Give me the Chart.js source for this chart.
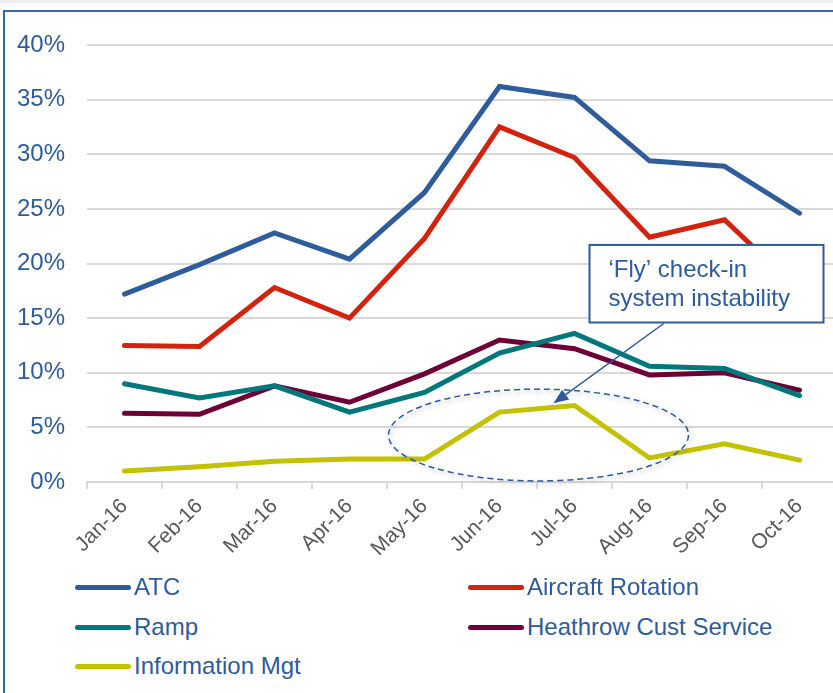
<!DOCTYPE html>
<html>
<head>
<meta charset="utf-8">
<script src="https://cdn.jsdelivr.net/npm/chart.js@4/dist/chart.umd.min.js"></script>
<style>
  html, body { margin: 0; padding: 0; width: 833px; height: 693px; overflow: hidden; background: #fff;
    font-family: "Liberation Sans", Arial, sans-serif; }
  #strip { position: absolute; left: 0; top: 0; width: 833px; height: 3px; background: #eeeeee; }
  #frame { position: absolute; left: 3px; top: 10px; width: 900px; height: 800px;
    border-top: 2px solid #3a65a6; border-left: 2px solid #3a65a6; }
  #chart { position: absolute; left: 0; top: 0; }
  .item { position: absolute; display: flex; align-items: center; height: 28px;
    font-size: 24px; color: #2f5b9a; white-space: nowrap; }
  .swatch { width: 56px; height: 5px; border-radius: 3px; margin-right: 3px; }
</style>
</head>
<body>
<div id="strip"></div>
<div id="frame"></div>
<canvas id="chart" width="850" height="575"></canvas>
<div id="legend"></div>
<script>
// Monthly share of delay minutes by cause
const months = ['Jan-16', 'Feb-16', 'Mar-16', 'Apr-16', 'May-16', 'Jun-16', 'Jul-16', 'Aug-16', 'Sep-16', 'Oct-16'];
const atc              = [17.2, 19.9, 22.8, 20.4, 26.5, 36.2, 35.2, 29.4, 28.9, 24.6];
const aircraftRotation = [12.5, 12.4, 17.8, 15.0, 22.3, 32.5, 29.7, 22.4, 24.0, 17.5];
const ramp             = [9.0, 7.7, 8.8, 6.4, 8.2, 11.8, 13.6, 10.6, 10.4, 7.9];
const heathrowCust     = [6.3, 6.2, 8.8, 7.3, 9.9, 13.0, 12.2, 9.8, 10.0, 8.4];
const infoMgt          = [1.0, 1.4, 1.9, 2.1, 2.1, 6.4, 7.0, 2.2, 3.5, 2.0];
const yTicks = [0, 5, 10, 15, 20, 25, 30, 35, 40];

const seriesNames  = ['ATC', 'Aircraft Rotation', 'Ramp', 'Heathrow Cust Service', 'Information Mgt'];
const seriesValues = [atc, aircraftRotation, ramp, heathrowCust, infoMgt];
const seriesColors = ['#2f5c9a', '#d2230f', '#00787b', '#6e0038', '#c3c200'];

const BLUE = '#2f5b9a';
const FONT = '"Liberation Sans", Arial, sans-serif';

// Callout: dashed ring around the Jun–Jul spike, a text box and an arrow
const callout = {
  id: 'callout',
  afterDatasetsDraw(chart) {
    const { ctx, scales: { x, y } } = chart;
    const px = v => x.getPixelForValue(v);
    const py = v => y.getPixelForValue(v);
    const step = px(1) - px(0);

    ctx.save();
    // dashed ellipse with a soft shadow
    const cx = px(5.52), cy = py(4.3);
    const rx = step * 2, ry = py(0) - py(4.2);
    ctx.shadowColor = 'rgba(0,0,0,0.35)';
    ctx.shadowBlur = 5;
    ctx.shadowOffsetX = 2;
    ctx.shadowOffsetY = 2;
    ctx.strokeStyle = BLUE;
    ctx.lineWidth = 1.5;
    ctx.setLineDash([6, 4]);
    ctx.beginPath();
    ctx.ellipse(cx, cy, rx, ry, 0, 0, Math.PI * 2);
    ctx.stroke();
    ctx.restore();

    // text box
    const bx1 = px(6.2), bx2 = px(9.32);
    const by1 = py(21.7), by2 = py(14.6);
    ctx.save();
    ctx.fillStyle = '#ffffff';
    ctx.fillRect(bx1, by1, bx2 - bx1, by2 - by1);
    ctx.strokeStyle = BLUE;
    ctx.lineWidth = 2;
    ctx.strokeRect(bx1, by1, bx2 - bx1, by2 - by1);
    ctx.fillStyle = BLUE;
    ctx.font = '24px ' + FONT;
    ctx.textAlign = 'left';
    ctx.textBaseline = 'alphabetic';
    ctx.fillText('\u2018Fly\u2019 check-in', bx1 + 19, by1 + 32);
    ctx.fillText('system instability', bx1 + 19, by1 + 61);

    // arrow
    const ax1 = px(7.19), ay1 = by2 + 1;
    const ax2 = px(5.72), ay2 = py(7.2);
    const ang = Math.atan2(ay2 - ay1, ax2 - ax1);
    const head = 15, half = 6;
    const hx = ax2 - head * Math.cos(ang), hy = ay2 - head * Math.sin(ang);
    ctx.strokeStyle = BLUE;
    ctx.lineWidth = 1.5;
    ctx.beginPath();
    ctx.moveTo(ax1, ay1);
    ctx.lineTo(hx, hy);
    ctx.stroke();
    ctx.fillStyle = BLUE;
    ctx.beginPath();
    ctx.moveTo(ax2, ay2);
    ctx.lineTo(hx + half * Math.sin(ang), hy - half * Math.cos(ang));
    ctx.lineTo(hx - half * Math.sin(ang), hy + half * Math.cos(ang));
    ctx.closePath();
    ctx.fill();
    ctx.restore();
  }
};

const chart = new Chart(document.getElementById('chart'), {
  type: 'line',
  data: {
    labels: months,
    datasets: seriesNames.map((name, i) => ({
      label: name,
      data: seriesValues[i],
      borderColor: seriesColors[i],
      backgroundColor: seriesColors[i],
      borderWidth: 5,
      borderCapStyle: 'round',
      pointRadius: 0,
      tension: 0,
      fill: false
    }))
  },
  options: {
    responsive: false,
    animation: false,
    devicePixelRatio: 1,
    layout: { padding: { top: 45, right: 13, left: 0, bottom: 0 } },
    plugins: { legend: { display: false }, tooltip: { enabled: false } },
    scales: {
      x: {
        offset: true,
        grid: { offset: true, drawOnChartArea: false, drawTicks: true, tickLength: 7, color: '#d9d9d9', lineWidth: 2 },
        border: { color: '#d9d9d9', width: 2 },
        ticks: { color: '#595959', font: { family: FONT, size: 21 }, minRotation: 45, maxRotation: 45, padding: 5 },
        afterFit(s) { s.height = 93; }
      },
      y: {
        min: 0, max: 40,
        afterBuildTicks(s) { s.ticks = yTicks.map(v => ({ value: v })); },
        grid: { color: '#d9d9d9', lineWidth: 2, drawTicks: false },
        border: { display: false },
        ticks: { color: BLUE, font: { family: FONT, size: 24 }, padding: 22, callback: v => v + '%' },
        afterFit(s) { s.width = 87; }
      }
    }
  },
  plugins: [callout]
});

// Two-column legend under the plot
const legend = document.getElementById('legend');
const cols = [75, 468];
const rows = [587, 627, 666];
seriesNames.forEach((name, i) => {
  const el = document.createElement('div');
  el.className = 'item';
  el.style.left = cols[i % 2] + 'px';
  el.style.top = (rows[Math.floor(i / 2)] - 14) + 'px';
  const sw = document.createElement('span');
  sw.className = 'swatch';
  sw.style.background = seriesColors[i];
  el.appendChild(sw);
  el.appendChild(document.createTextNode(name));
  legend.appendChild(el);
});
</script>
</body>
</html>
